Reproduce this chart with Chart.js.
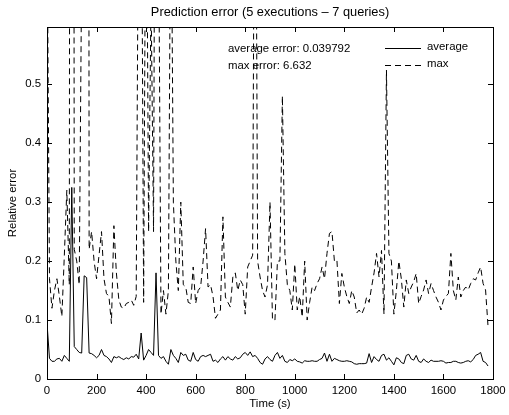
<!DOCTYPE html>
<html>
<head>
<meta charset="utf-8">
<script src="https://cdn.jsdelivr.net/npm/chart.js@4/dist/chart.umd.min.js"></script>
<style>
  html, body { margin: 0; padding: 0; background: #fff; }
  #wrap { width: 509px; height: 415px; position: relative; }
</style>
</head>
<body>
<div id="wrap"><canvas id="errChart"></canvas></div>
<script>
// relative error sampled every 10 s (0 .. 1780 s)
const avgErr = [
  0.095, 0.035, 0.030, 0.030, 0.034, 0.035, 0.030, 0.040, 0.035, 0.030,
  0.325, 0.055, 0.050, 0.045, 0.044, 0.175, 0.172, 0.044, 0.043, 0.040,
  0.036, 0.040, 0.050, 0.040, 0.038, 0.034, 0.028, 0.038, 0.036, 0.038,
  0.035, 0.033, 0.036, 0.034, 0.038, 0.037, 0.042, 0.034, 0.078, 0.032,
  0.040, 0.050, 0.045, 0.040, 0.180, 0.040, 0.035, 0.038, 0.030, 0.025,
  0.050, 0.040, 0.035, 0.028, 0.045, 0.040, 0.042, 0.032, 0.030, 0.045,
  0.033, 0.030, 0.038, 0.040, 0.038, 0.040, 0.042, 0.030, 0.032, 0.028,
  0.034, 0.038, 0.032, 0.038, 0.034, 0.032, 0.038, 0.034, 0.036, 0.042,
  0.045, 0.040, 0.046, 0.038, 0.040, 0.035, 0.028, 0.025, 0.034, 0.038,
  0.033, 0.030, 0.040, 0.045, 0.035, 0.040, 0.030, 0.028, 0.033, 0.031,
  0.034, 0.030, 0.029, 0.027, 0.031, 0.030, 0.030, 0.031, 0.030, 0.030,
  0.033, 0.035, 0.044, 0.030, 0.042, 0.030, 0.035, 0.033, 0.031, 0.030,
  0.030, 0.031, 0.030, 0.029, 0.026, 0.025, 0.026, 0.026, 0.026, 0.027,
  0.043, 0.028, 0.038, 0.033, 0.030, 0.040, 0.042, 0.032, 0.036, 0.030,
  0.024, 0.036, 0.034, 0.028, 0.026, 0.040, 0.042, 0.034, 0.032, 0.040,
  0.030, 0.028, 0.034, 0.030, 0.028, 0.032, 0.030, 0.030, 0.030, 0.031,
  0.030, 0.027, 0.028, 0.028, 0.030, 0.030, 0.028, 0.027, 0.028, 0.030,
  0.031, 0.029, 0.033, 0.040, 0.042, 0.045, 0.030, 0.028, 0.022
];

const maxErr = [
  0.80, 0.17, 0.12, 0.15, 0.17, 0.14, 0.106, 0.21, 0.32, 0.16,
  5.0, 0.22, 0.20, 0.16, 0.70, 3.0, 6.0, 0.22, 0.25, 0.20,
  0.17, 0.21, 0.25, 0.17, 0.145, 0.14, 0.094, 0.26, 0.18, 0.134,
  0.122, 0.12, 0.128, 0.13, 0.134, 0.125, 0.14, 0.90, 1.0, 0.13,
  1.0, 0.25, 0.65, 0.25, 1.5, 0.80, 0.11, 0.15, 0.11, 0.15,
  0.90, 0.30, 0.20, 0.15, 0.30, 0.16, 0.156, 0.13, 0.128, 0.19,
  0.128, 0.15, 0.156, 0.20, 0.255, 0.156, 0.16, 0.14, 0.103, 0.11,
  0.117, 0.275, 0.139, 0.13, 0.122, 0.173, 0.18, 0.15, 0.168, 0.16,
  0.11, 0.19, 0.20, 0.21, 1.2, 0.20, 0.173, 0.15, 0.139, 0.16,
  0.30, 0.10, 0.10, 0.20, 0.20, 0.48, 0.213, 0.16, 0.15, 0.117,
  0.195, 0.117, 0.14, 0.105, 0.20, 0.10, 0.13, 0.156, 0.15, 0.162,
  0.17, 0.19, 0.17, 0.213, 0.247, 0.25, 0.20, 0.202, 0.128, 0.179,
  0.156, 0.14, 0.128, 0.15, 0.139, 0.112, 0.117, 0.11, 0.12, 0.139,
  0.13, 0.156, 0.18, 0.213, 0.173, 0.218, 0.11, 0.524, 0.213, 0.20,
  0.11, 0.15, 0.20, 0.17, 0.122, 0.168, 0.145, 0.156, 0.165, 0.179,
  0.128, 0.14, 0.151, 0.168, 0.145, 0.162, 0.15, 0.139, 0.13, 0.117,
  0.134, 0.14, 0.145, 0.213, 0.15, 0.134, 0.173, 0.139, 0.15, 0.156,
  0.151, 0.162, 0.17, 0.168, 0.18, 0.19, 0.162, 0.151, 0.089
];

const xTicks = [0, 200, 400, 600, 800, 1000, 1200, 1400, 1600, 1800];
const yTicks = [0, 0.1, 0.2, 0.3, 0.4, 0.5];
const titleText = 'Prediction error (5 executions \u2013 7 queries)';
const notes = ['average error: 0.039792', 'max error: 6.632'];
const seriesNames = ['average', 'max'];

const times = avgErr.map((_, i) => i * 10);
const FONT = 'Liberation Sans, Arial, Helvetica, sans-serif';

// matlab style box with inward ticks, title over the axes, text notes and legend
const matlabBox = {
    id: 'matlabBox',
    afterDatasetsDraw(chart) {
        const { ctx, chartArea: a, scales } = chart;
        ctx.save();
        ctx.strokeStyle = '#000';
        ctx.lineWidth = 1;
        ctx.strokeRect(a.left + 0.5, a.top + 0.5, a.right - a.left, a.bottom - a.top);
        const len = 5;
        ctx.beginPath();
        xTicks.forEach(v => {
            const px = Math.round(scales.x.getPixelForValue(v)) + 0.5;
            ctx.moveTo(px, a.bottom); ctx.lineTo(px, a.bottom - len);
            ctx.moveTo(px, a.top); ctx.lineTo(px, a.top + len);
        });
        yTicks.forEach(v => {
            const py = Math.round(scales.y.getPixelForValue(v)) + 0.5;
            ctx.moveTo(a.left, py); ctx.lineTo(a.left + len, py);
            ctx.moveTo(a.right, py); ctx.lineTo(a.right - len, py);
        });
        ctx.stroke();

        ctx.fillStyle = '#000';
        ctx.textBaseline = 'middle';
        ctx.textAlign = 'center';
        ctx.font = '12.8px ' + FONT;
        ctx.fillText(titleText, (a.left + a.right) / 2, 12);

        ctx.font = '11.4px ' + FONT;
        ctx.textAlign = 'left';
        ctx.fillText(notes[0], 228, 49);
        ctx.fillText(notes[1], 228, 66);

        // legend
        ctx.beginPath();
        ctx.moveTo(385, 48.5); ctx.lineTo(421, 48.5);
        ctx.stroke();
        ctx.setLineDash([6, 4]);
        ctx.beginPath();
        ctx.moveTo(385, 65.5); ctx.lineTo(421, 65.5);
        ctx.stroke();
        ctx.setLineDash([]);
        ctx.fillText(seriesNames[0], 427, 47);
        ctx.fillText(seriesNames[1], 427, 64);
        ctx.restore();
    }
};

const ctx = document.getElementById('errChart').getContext('2d');
new Chart(ctx, {
    type: 'line',
    data: {
        datasets: [
            {
                label: seriesNames[0],
                data: times.map((t, i) => ({ x: t, y: avgErr[i] })),
                borderColor: '#000',
                borderWidth: 1,
                pointRadius: 0,
                tension: 0
            },
            {
                label: seriesNames[1],
                data: times.map((t, i) => ({ x: t, y: maxErr[i] })),
                borderColor: '#000',
                borderWidth: 1,
                borderDash: [6, 4],
                pointRadius: 0,
                tension: 0
            }
        ]
    },
    options: {
        responsive: true,
        maintainAspectRatio: false,
        animation: false,
        layout: { padding: { left: 6, right: 16, top: 27, bottom: 0 } },
        plugins: {
            legend: { display: false },
            tooltip: { enabled: false },
            title: { display: false }
        },
        scales: {
            x: {
                type: 'linear',
                min: 0,
                max: 1800,
                afterBuildTicks: s => { s.ticks = xTicks.map(v => ({ value: v })); },
                afterFit: s => { s.height = 36; s.paddingLeft = 0; s.paddingRight = 0; },
                grid: { display: false, drawTicks: false },
                border: { display: false },
                ticks: {
                    color: '#000',
                    font: { family: FONT, size: 11.4 },
                    padding: 5,
                    maxRotation: 0,
                    callback: v => String(v)
                },
                title: {
                    display: true,
                    text: 'Time (s)',
                    color: '#000',
                    font: { family: FONT, size: 11.4 },
                    padding: { top: 0, bottom: 4 }
                }
            },
            y: {
                min: 0,
                max: 0.597,
                afterBuildTicks: s => { s.ticks = yTicks.map(v => ({ value: v })); },
                afterFit: s => { s.width = 41; s.paddingTop = 0; s.paddingBottom = 0; },
                grid: { display: false, drawTicks: false },
                border: { display: false },
                ticks: {
                    color: '#000',
                    font: { family: FONT, size: 11.4 },
                    padding: 6,
                    callback: v => (v === 0 ? '0' : v.toFixed(1))
                },
                title: {
                    display: true,
                    text: 'Relative error',
                    color: '#000',
                    font: { family: FONT, size: 11.4 },
                    padding: { top: 0, bottom: 0 }
                }
            }
        }
    },
    plugins: [matlabBox]
});
</script>
</body>
</html>
